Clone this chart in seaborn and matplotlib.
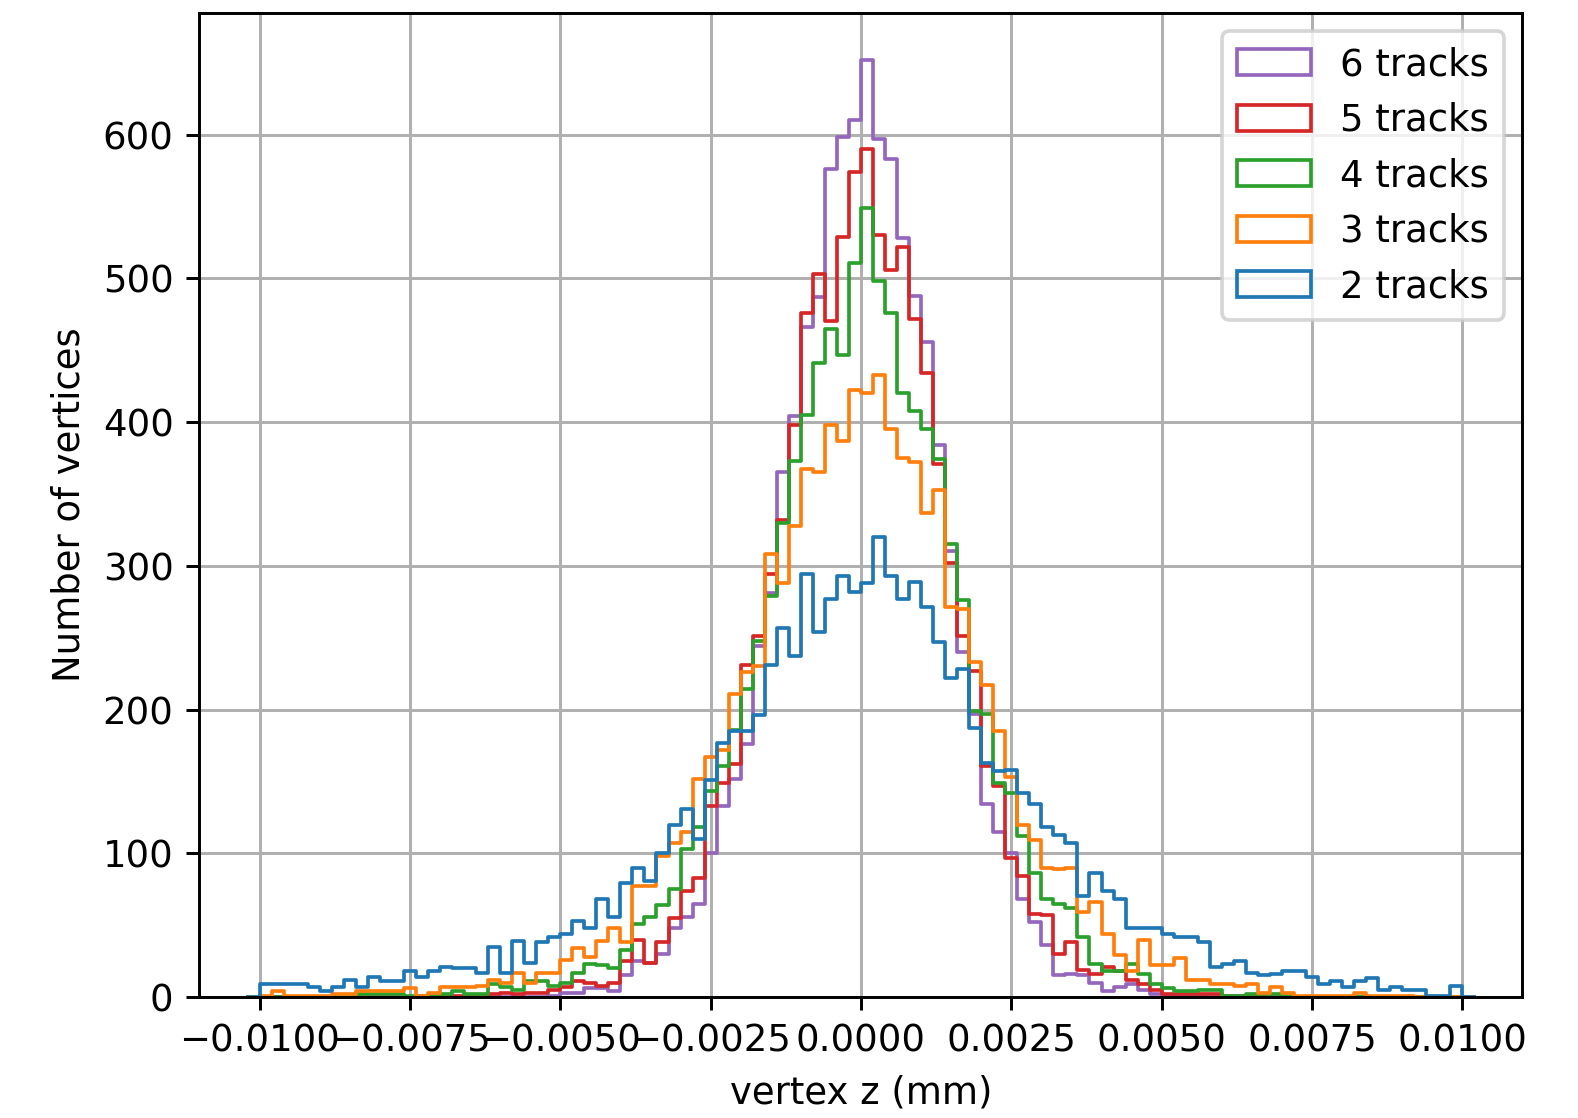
import numpy as np
import pandas as pd
import matplotlib
matplotlib.use("Agg")
import matplotlib.pyplot as plt
from matplotlib.patches import Patch
import seaborn as sns

# ---------------- data ----------------
x_min, x_max, n_bins = -0.01, 0.01, 100

labels = ["2 tracks", "3 tracks", "4 tracks", "5 tracks", "6 tracks"]
colors = ["#1f77b4", "#ff7f0e", "#2ca02c", "#d62728", "#9467bd"]

counts_2 = [9, 9, 9, 9, 7, 4, 7, 12, 7, 14,
            11, 11, 18, 14, 18, 21, 20, 20, 17, 35,
            17, 39, 24, 38, 42, 44, 53, 48, 68, 56,
            79, 90, 81, 100, 120, 131, 110, 151, 177, 185,
            185, 196, 231, 257, 237, 294, 254, 277, 293, 282,
            288, 320, 293, 277, 289, 271, 247, 222, 228, 187,
            163, 157, 158, 142, 134, 118, 113, 107, 70, 86,
            74, 68, 48, 48, 48, 44, 42, 42, 38, 21,
            23, 25, 17, 15, 16, 18, 18, 14, 9, 11,
            7, 11, 13, 5, 7, 5, 5, 1, 1, 8]

counts_3 = [1, 4, 1, 1, 1, 1, 2, 2, 4, 4,
            4, 4, 6, 1, 3, 7, 7, 7, 8, 12,
            10, 17, 10, 17, 17, 26, 34, 28, 39, 48,
            38, 77, 77, 98, 107, 115, 152, 167, 172, 211,
            226, 230, 308, 288, 328, 367, 365, 398, 387, 422,
            420, 433, 395, 375, 372, 337, 353, 271, 270, 233,
            217, 185, 153, 120, 109, 90, 89, 90, 59, 66,
            44, 29, 18, 40, 22, 22, 27, 12, 12, 9,
            9, 8, 9, 3, 7, 3, 1, 1, 1, 1,
            1, 3, 1, 1, 1, 1, 0, 0, 0, 0]

counts_4 = [0, 0, 0, 0, 0, 0, 1, 1, 2, 2,
            2, 2, 1, 1, 1, 2, 4, 2, 2, 9,
            7, 5, 11, 11, 8, 10, 17, 23, 22, 20,
            33, 51, 56, 64, 75, 103, 118, 143, 161, 186,
            214, 248, 279, 330, 373, 405, 441, 465, 447, 511,
            549, 498, 476, 420, 408, 395, 374, 315, 276, 199,
            197, 149, 142, 112, 86, 68, 65, 62, 42, 23,
            18, 18, 23, 16, 9, 6, 4, 4, 5, 5,
            1, 1, 2, 2, 2, 1, 0, 0, 0, 0,
            0, 0, 0, 0, 0, 0, 0, 0, 0, 0]

counts_5 = [0, 0, 0, 0, 0, 0, 0, 0, 0, 0,
            0, 0, 0, 0, 1, 1, 1, 1, 1, 2,
            3, 2, 3, 3, 5, 7, 11, 10, 8, 10,
            25, 40, 24, 38, 55, 74, 83, 133, 149, 162,
            231, 251, 294, 332, 398, 476, 503, 470, 529, 574,
            590, 530, 506, 522, 472, 434, 371, 302, 251, 227,
            161, 147, 97, 84, 58, 57, 30, 38, 19, 16,
            21, 18, 12, 9, 5, 2, 2, 2, 2, 2,
            1, 1, 1, 1, 0, 0, 0, 0, 0, 0,
            0, 0, 0, 0, 0, 0, 0, 0, 0, 0]

counts_6 = [0, 0, 0, 0, 0, 0, 0, 0, 0, 0,
            0, 0, 0, 0, 0, 0, 0, 0, 0, 0,
            0, 0, 0, 0, 1, 3, 3, 6, 6, 4,
            15, 25, 24, 30, 48, 56, 65, 100, 133, 152,
            176, 244, 281, 365, 404, 466, 487, 576, 598, 610,
            652, 597, 583, 528, 488, 456, 384, 310, 240, 197,
            134, 115, 100, 68, 52, 36, 15, 16, 15, 10,
            4, 7, 9, 5, 2, 1, 1, 1, 1, 0,
            0, 0, 0, 0, 0, 0, 0, 0, 0, 0,
            0, 0, 0, 0, 0, 0, 0, 0, 0, 0]

series = [counts_2, counts_3, counts_4, counts_5, counts_6]

# ---------------- plot ----------------
bin_w = (x_max - x_min) / n_bins
# one empty bin on each side so the step outline drops to zero at the ends
centers = x_min + bin_w * (np.arange(-1, n_bins + 1) + 0.5)

DPI = 266
fig = plt.figure(figsize=(1578 / DPI, 1118 / DPI), dpi=DPI)
ax = fig.add_axes([0.1264, 0.1082, 0.8384, 0.8802])
ax.set_axisbelow(True)
ax.grid(True, color="#b0b0b0", linewidth=0.8)

# draw last series first so that "2 tracks" ends on top (like plt.hist)
for lab, cnt, col in reversed(list(zip(labels, series, colors))):
    w = np.concatenate([[0.0], np.asarray(cnt, dtype=float), [0.0]])
    df = pd.DataFrame({"z": centers, "n": w})
    sns.histplot(data=df, x="z", weights="n", bins=n_bins + 2,
                 binrange=(x_min - bin_w, x_max + bin_w), element="step",
                 fill=False, color=col, linewidth=1.0, ax=ax)

ymax = max(max(s) for s in series)
ax.set_xlim(x_min - 0.05 * (x_max - x_min), x_max + 0.05 * (x_max - x_min))
ax.set_ylim(0, ymax * 1.05)
ax.set_xlabel("vertex z (mm)")
ax.set_ylabel("Number of vertices")

handles = [Patch(facecolor="none", edgecolor=c, linewidth=1.0) for c in colors]
ax.legend(handles[::-1], labels[::-1], loc="upper right")

fig.savefig("out.png", dpi=DPI)
